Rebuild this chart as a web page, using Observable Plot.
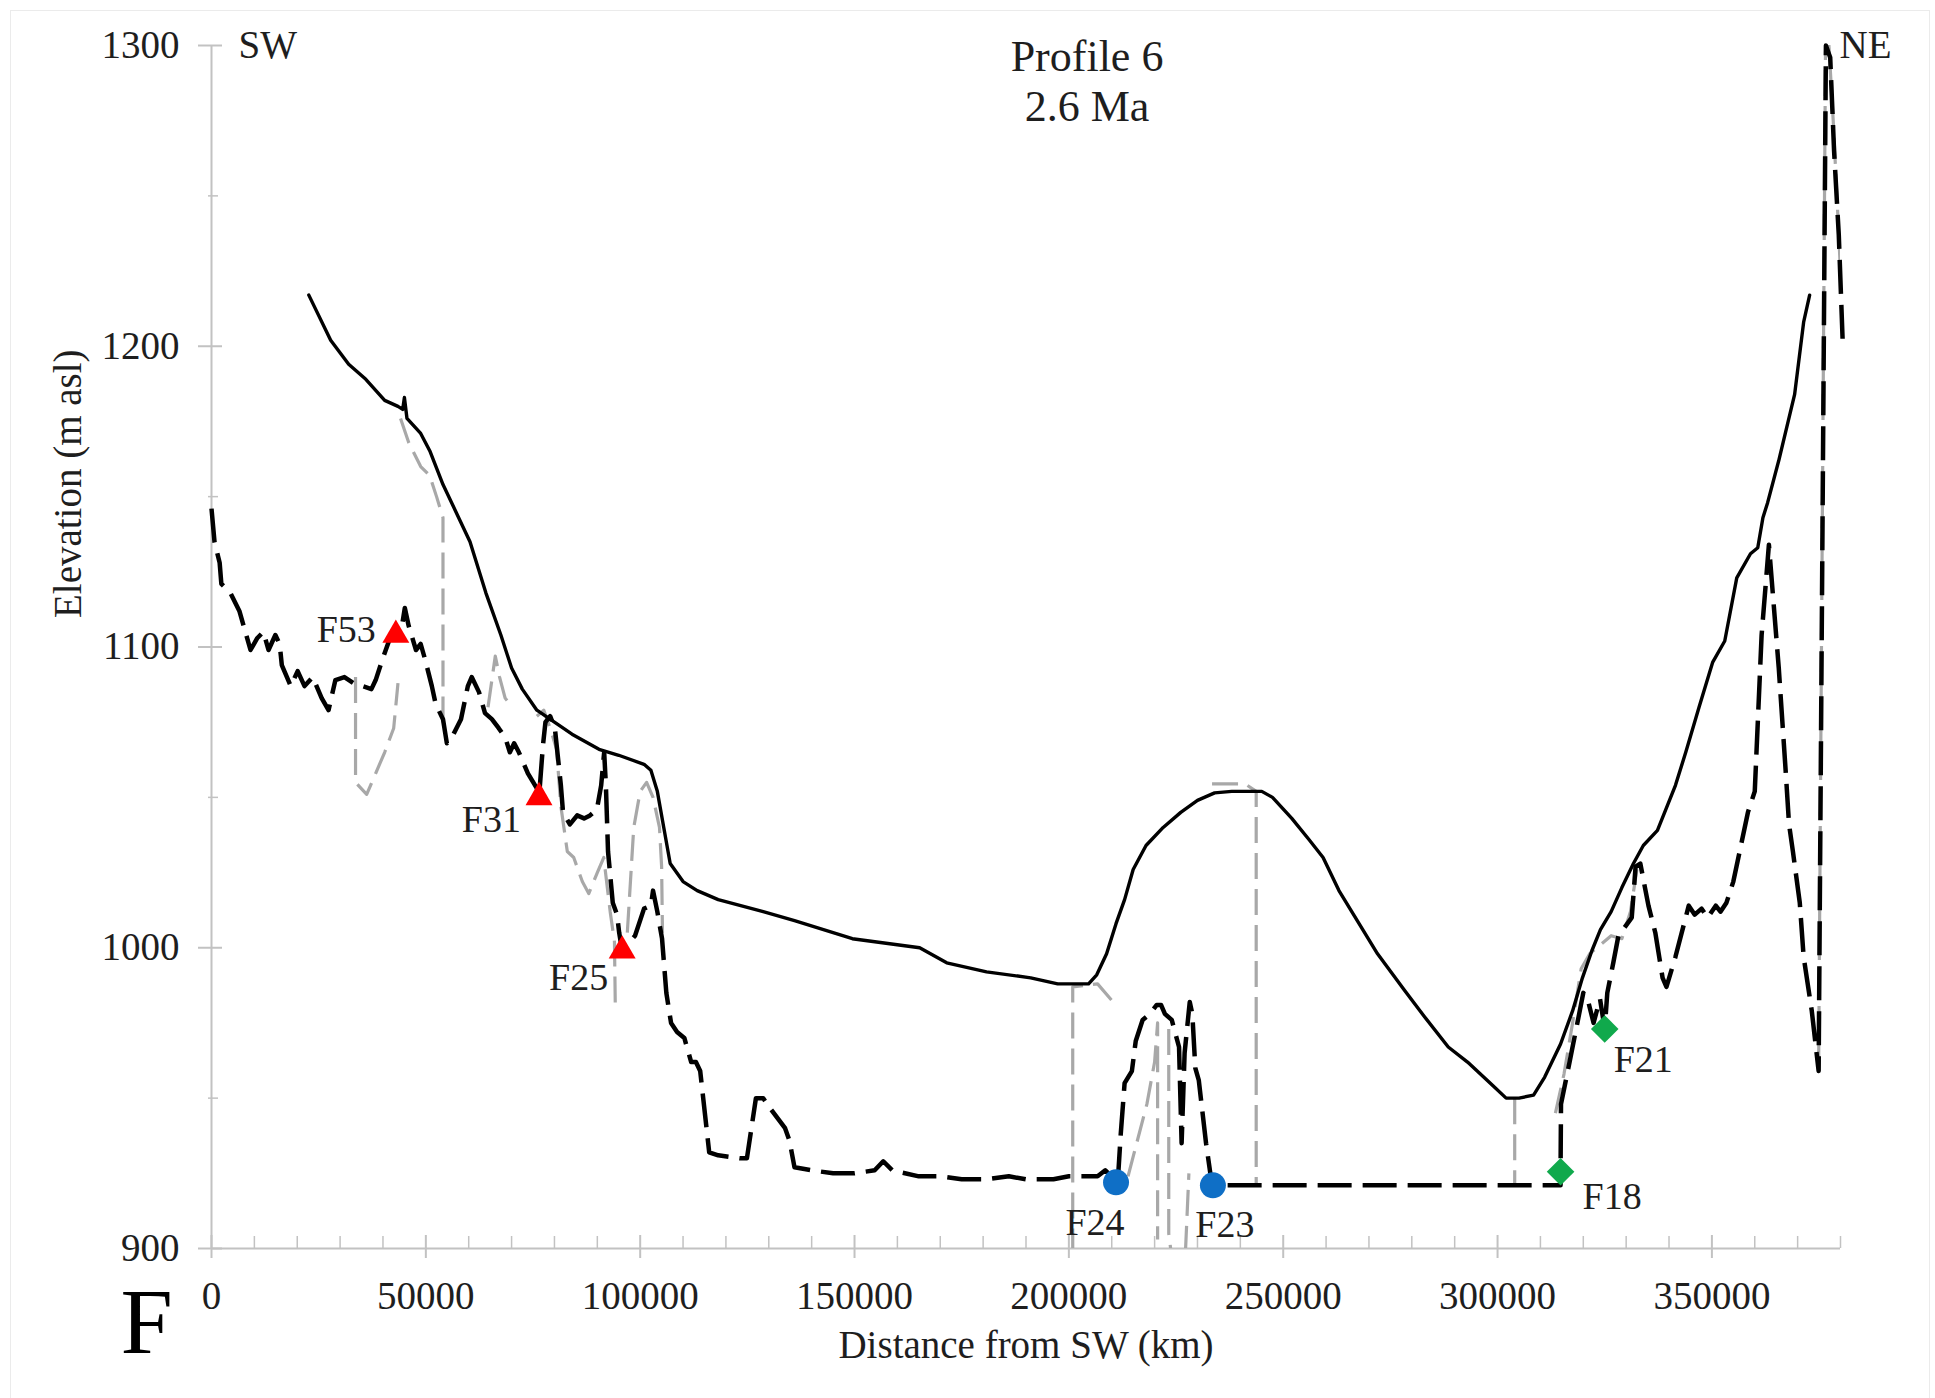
<!DOCTYPE html>
<html>
<head>
<meta charset="utf-8">
<script src="https://cdn.jsdelivr.net/npm/d3@7"></script>
<script src="https://cdn.jsdelivr.net/npm/@observablehq/plot@0.6"></script>
<style>
  html, body { margin: 0; padding: 0; background: #fff; }
  #border { position: absolute; left: 10px; top: 10px; width: 1920px; height: 1400px; border: 1px solid #ebebeb; box-sizing: border-box; }
  #chart { position: absolute; left: 0; top: 0; }
</style>
</head>
<body>
<div id="border"></div>
<div id="chart"></div>
<script>
// ---------------- DATA ----------------
// Solid line: upper surface (distance m, elevation m asl)
const surfaceProfile = [
  [22700,1217],[27800,1202],[32000,1194],[36000,1189],[40400,1182],[43500,1180],[44600,1179],[45000,1183],
  [45600,1176],[48800,1171],[51000,1165],[54000,1154],[57000,1145],[60300,1135],[64000,1118],[67500,1104],
  [70000,1093],[72500,1086],[75900,1079],[80000,1075],[84100,1071],[90400,1066],[95000,1064],[100900,1061],
  [102500,1059],[104000,1052],[105500,1040],[107000,1028],[110000,1022],[113300,1019],[118200,1016],[128700,1012],
  [136000,1009],[149500,1003],[165200,1000],[171500,995],[180800,992],[191100,990],[197400,988],[204600,988],
  [206500,991],[208800,998],[211000,1008],[213000,1016],[215000,1026],[218000,1034],[222000,1040],[226100,1045],
  [230000,1049],[234000,1051.5],[238000,1052],[245000,1052],[247500,1050],[252000,1043],[256000,1036],[259300,1030],
  [263000,1019],[267700,1008],[272000,998],[278200,986],[283000,977],[288500,967],[293000,962],[296000,958],
  [299000,954],[302000,950],[305000,950],[308400,951],[311000,957],[314700,968],[317500,979],[319800,990],
  [322000,999],[324000,1006],[326500,1012],[329000,1020],[331700,1028],[334000,1034],[337300,1039],[341500,1054],
  [343900,1065],[347000,1080],[350200,1095],[353000,1102],[355800,1123],[359000,1131],[360700,1133],[361900,1143],
  [363000,1148],[365600,1162],[369300,1184],[371400,1208],[372800,1217]
];

// Black dashed line: valley profile
const valleyProfile = [
  [0,1146],[700,1135],[1900,1128],[2300,1121],[4400,1118],[6500,1112],[7500,1107],[9100,1099],[10700,1103],
  [12100,1105],[13300,1099],[14900,1104],[15900,1101],[16400,1094],[18500,1087],[20100,1092],[21700,1087],
  [23600,1090],[25700,1083],[27300,1079],[28900,1089],[31000,1090],[33100,1088],[35200,1087],[37300,1086],
  [38300,1089],[39900,1096],[41400,1102],[43000,1105],[44100,1104],[45100,1113],[46000,1107],[47700,1099],
  [48800,1101],[49800,1096],[51400,1087],[52300,1081],[54000,1076],[54900,1068],[56100,1070],[58200,1076],
  [59800,1087],[60700,1090],[62400,1085],[63800,1078],[65400,1076],[67000,1073],[68500,1070],[69600,1065],
  [70600,1068],[71700,1065],[73800,1058],[75900,1053],[76400,1050],[77300,1067],[77900,1075],[79000,1077],
  [80100,1073],[81500,1054],[82000,1045],[83600,1041],[85300,1044],[86900,1043],[88300,1044],[89900,1046],
  [90900,1054],[91600,1065],[92000,1054],[92500,1032],[93600,1015],[94600,1011],[95100,1005],[95800,999],
  [98800,1004],[100900,1013],[102500,1014],[103000,1019],[104000,1012],[105100,1003],[106100,985],[107200,975],
  [108600,972],[110300,970],[111900,962],[113000,962],[114000,959],[116100,932],[118200,931],[123300,930],
  [124900,930],[127000,950],[128700,950],[130100,947],[133800,940],[134800,936],[136000,927],[140000,926],
  [145000,925],[150000,925],[154700,926],[156700,929],[158800,926],[165000,924],[170000,924],[175000,923],
  [180800,923],[186000,924],[190000,923],[196400,923],[200000,924],[204600,924],[206700,924],[208500,926],
  [211400,922],[212100,938],[213000,955],[214700,959],[215600,969],[217200,976],[218900,978],[220500,981],
  [221500,981],[222400,978],[224000,976],[225700,967],[226300,935],[227000,965],[228200,982],[228800,978],
  [229500,960],[230300,956],[232000,935],[233400,921],[314700,921],[314700,926],[314800,948],[316800,962],
  [318900,977],[320000,985],[321000,983],[322400,975],[323900,983],[325000,973],[325600,985],[327000,995],
  [328200,1004],[331300,1010],[332200,1027],[333300,1028],[335200,1014],[336800,1005],[338500,990],[339400,987],
  [341500,997],[344600,1014],[346000,1011],[347600,1013],[349000,1010],[350900,1014],[352000,1012],[353400,1015],
  [355000,1022],[358400,1045],[360000,1052],[361600,1104],[363300,1134],[365600,1093],[367200,1059],[368000,1041],
  [368900,1032],[370500,1015],[371400,997],[373300,979],[374900,959],[376600,1300],[377600,1296],[378500,1265],
  [379600,1237],[380500,1202]
];

// Grey dashed line: alternative profile, drawn in separate visible pieces
const altProfilePieces = [
  [[33600,1090],[33600,1055],[36200,1051],[38300,1058],[40400,1065],[42500,1073],[43500,1088]],
  [[44100,1176],[46000,1168],[48800,1160],[50900,1157],[52500,1150],[54000,1143],[54000,1074]],
  [[64500,1080],[65500,1090],[66200,1097],[67200,1090],[68500,1083],[69600,1081]],
  [[75900,1077],[77500,1079],[79000,1073],[80500,1066],[81500,1047],[83000,1032],[84500,1030],[86500,1022],
   [88000,1018],[90000,1025],[91500,1030],[93000,1012],[94000,1002],[94200,980]],
  [[97000,1005],[98500,1040],[100000,1052],[101500,1055],[103000,1050],[104500,1040],[105000,1027],[105200,1005]],
  [[200900,898],[200900,987],[206700,988],[210900,981]],
  [[213800,924],[216000,936],[218200,948],[220000,962],[220700,975],[220700,903]],
  [[223300,973],[223300,905],[224000,897],[226000,895],[227200,899],[228000,925]],
  [[233400,1054.5],[241100,1054.5],[243700,1052],[243700,921]],
  [[304000,950],[304000,921]],
  [[313500,945],[315500,958],[317500,975],[319500,993],[321500,998],[324000,1001],[326500,1004],[329000,1003],
   [331000,1012],[332500,1026]],
  [[374900,960],[376500,1298],[377300,1300],[378300,1275],[379500,1240],[380300,1215]]
];

// Labelled sites
const siteNames = ["F53", "F31", "F25", "F24", "F23", "F21", "F18"];
const siteX     = [43000, 76400, 95800, 211000, 233600, 325000, 314700];
const siteY     = [1104, 1050, 999, 922, 921, 973, 925.5];
const siteGroup = ["red", "red", "red", "blue", "blue", "green", "green"];

// Axis ticks
const xTicks = [0, 50000, 100000, 150000, 200000, 250000, 300000, 350000];
const xMinorTicks = d3.range(10000, 380001, 10000).filter(v => v % 50000 !== 0);
const yTicks = [900, 1000, 1100, 1200, 1300];
const yMinorTicks = [950, 1050, 1150, 1250];

const xTitle = "Distance from SW (km)";
const yTitle = "Elevation (m asl)";
const titleLines = ["Profile 6", "2.6 Ma"];
const endLabels = ["SW", "NE"];
const panelLetter = "F";

// ---------------- STYLE / LAYOUT ----------------
const FONT = "'Liberation Serif', 'Times New Roman', Times, serif";
const W = 1935, H = 1398;
const M = {left: 211, right: 95, top: 45, bottom: 150};
const xDomain = [0, 380000], yDomain = [900, 1300];
const xPerPx = (xDomain[1] - xDomain[0]) / (W - M.left - M.right);
const yPerPx = (yDomain[1] - yDomain[0]) / (H - M.top - M.bottom);
const AXIS = "#c2c2c2";
const TXT = "#1e1e1e";

const groupStyle = {
  red:   {symbol: "triangle", r: 10,  fill: "#ff0000", rotate: 0},
  blue:  {symbol: "circle",   r: 13,  fill: "#0f6fc6", rotate: 0},
  green: {symbol: "square",   r: 11,  fill: "#10a94c", rotate: 45}
};
const labelPlace = {
  F53: {textAnchor: "end",    dx: -20, dy: -5},
  F31: {textAnchor: "end",    dx: -18, dy: 22},
  F25: {textAnchor: "end",    dx: -14, dy: 27},
  F24: {textAnchor: "middle", dx: -21, dy: 40},
  F23: {textAnchor: "middle", dx: 12,  dy: 39},
  F21: {textAnchor: "start",  dx: 9,   dy: 31},
  F18: {textAnchor: "start",  dx: 22,  dy: 25}
};

// tables built from arrays
const sites = siteNames.map((name, i) => ({name, x: siteX[i], y: siteY[i], group: siteGroup[i]}));
const altRows = altProfilePieces.flatMap((piece, k) => piece.map(([x, y]) => ({x, y, piece: k})));

const marks = [
  // axes
  Plot.ruleY([yDomain[0]], {x1: xDomain[0], x2: xDomain[1], stroke: AXIS, strokeWidth: 2}),
  Plot.ruleX([xDomain[0]], {y1: yDomain[0], y2: yDomain[1], stroke: AXIS, strokeWidth: 2}),
  Plot.ruleX(xTicks, {y1: yDomain[0] - 10 * yPerPx, y2: yDomain[0] + 13 * yPerPx, stroke: AXIS, strokeWidth: 2}),
  Plot.ruleX(xMinorTicks, {y1: yDomain[0], y2: yDomain[0] + 12 * yPerPx, stroke: AXIS, strokeWidth: 1.5}),
  Plot.ruleY(yTicks, {x1: -13 * xPerPx, x2: 11 * xPerPx, stroke: AXIS, strokeWidth: 2}),
  Plot.ruleY(yMinorTicks, {x1: -3 * xPerPx, x2: 7 * xPerPx, stroke: AXIS, strokeWidth: 1.5}),
  Plot.text(xTicks, {x: d => d, y: yDomain[0], text: d => String(d), dy: 33, lineAnchor: "top",
    fontSize: 39, fontFamily: FONT, fill: TXT}),
  Plot.text(yTicks, {x: xDomain[0], y: d => d, text: d => String(d), dx: -32, textAnchor: "end",
    fontSize: 39, fontFamily: FONT, fill: TXT}),
  // axis titles
  Plot.text([xTitle], {frameAnchor: "bottom", text: d => d, dy: 109, lineAnchor: "bottom",
    fontSize: 39, fontFamily: FONT, fill: TXT}),
  Plot.text([yTitle], {frameAnchor: "left", text: d => d, dx: -131, dy: -29, rotate: -90, lineAnchor: "bottom",
    fontSize: 39, fontFamily: FONT, fill: TXT}),
  // title
  Plot.text([titleLines[0]], {frameAnchor: "top", text: d => d, dx: 61, dy: 25, lineAnchor: "bottom",
    fontSize: 44, fontFamily: FONT, fill: TXT}),
  Plot.text([titleLines[1]], {frameAnchor: "top", text: d => d, dx: 61, dy: 75, lineAnchor: "bottom",
    fontSize: 44, fontFamily: FONT, fill: TXT}),
  // SW / NE
  Plot.text([endLabels[0]], {frameAnchor: "top-left", text: d => d, dx: 27, dy: 0, textAnchor: "start",
    lineAnchor: "middle", fontSize: 39, fontFamily: FONT, fill: TXT}),
  Plot.text([endLabels[1]], {frameAnchor: "top-right", text: d => d, dx: -1, dy: 0, textAnchor: "start",
    lineAnchor: "middle", fontSize: 39, fontFamily: FONT, fill: TXT}),
  // panel letter
  Plot.text([panelLetter], {frameAnchor: "bottom-left", text: d => d, dx: -91, dy: 104, textAnchor: "start",
    lineAnchor: "bottom", fontSize: 94, fontFamily: FONT, fill: "#000"}),
  // profiles
  Plot.line(altRows, {x: "x", y: "y", z: "piece", stroke: "#a8a8a8", strokeWidth: 3.2,
    strokeDasharray: "26,10", strokeLinecap: "butt", clip: true}),
  Plot.line(valleyProfile, {x: d => d[0], y: d => d[1], stroke: "#000", strokeWidth: 4.5,
    strokeDasharray: "34,11", strokeLinecap: "butt", strokeLinejoin: "round"}),
  Plot.line(surfaceProfile, {x: d => d[0], y: d => d[1], stroke: "#000", strokeWidth: 3.4,
    strokeLinejoin: "round"})
];

// markers
for (const g of Object.keys(groupStyle)) {
  const s = groupStyle[g];
  marks.push(Plot.dot(sites.filter(d => d.group === g), {x: "x", y: "y", symbol: s.symbol, r: s.r,
    fill: s.fill, stroke: "none", rotate: s.rotate}));
}
// marker labels
for (const d of sites) {
  const p = labelPlace[d.name];
  marks.push(Plot.text([d], {x: "x", y: "y", text: "name", textAnchor: p.textAnchor, dx: p.dx, dy: p.dy,
    lineAnchor: "middle", fontSize: 38, fontFamily: FONT, fill: TXT}));
}

const chart = Plot.plot({
  width: W, height: H,
  marginLeft: M.left, marginRight: M.right, marginTop: M.top, marginBottom: M.bottom,
  x: {domain: xDomain, axis: null},
  y: {domain: yDomain, axis: null},
  style: {fontFamily: FONT, background: "transparent", overflow: "visible"},
  marks
});
document.getElementById("chart").appendChild(chart);
</script>
</body>
</html>
